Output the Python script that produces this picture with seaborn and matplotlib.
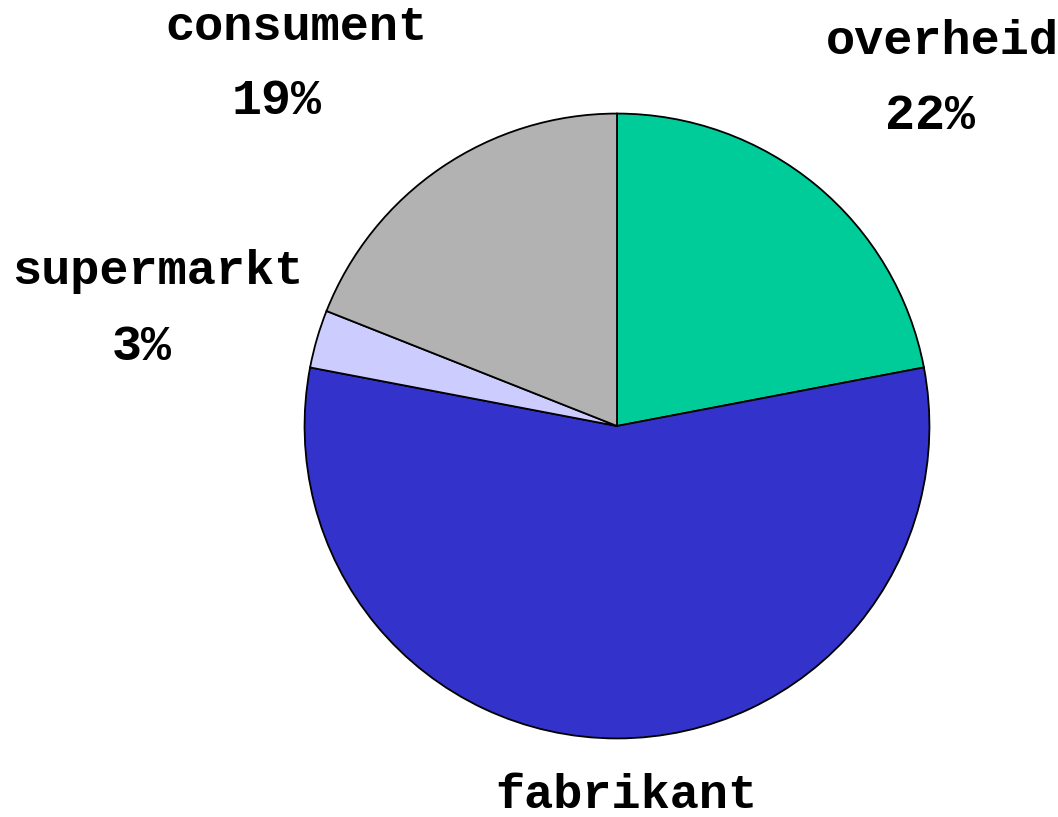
import matplotlib
matplotlib.use("Agg")
import matplotlib.pyplot as plt
import seaborn as sns

# ---- data ----
labels = ["overheid", "fabrikant", "supermarkt", "consument"]
shares = [22, 56, 3, 19]
colors = ["#00CC99", "#3333CC", "#CCCCFF", "#B2B2B2"]

# label anchor points in pixels (x, y from top) for name / percent
# (the fabrikant percentage falls below the bottom edge in the original)
name_pos = [(942, 42), (626, 795), (158, 272), (296, 28)]
pct_pos = [(930, 116), None, (142, 347), (277, 101)]

sns.set_theme(style="white")
plt.rcParams["font.family"] = ["Liberation Mono", "DejaVu Sans Mono"]

W, H = 1058, 817
fig = plt.figure(figsize=(W / 100, H / 100), dpi=100)
cx, cy, r = 617, 426, 314
ax = fig.add_axes([(cx - r) / W, (H - cy - r) / H, 2 * r / W, 2 * r / H])

ax.pie(shares, colors=colors, startangle=90, counterclock=False, radius=1,
       wedgeprops=dict(edgecolor="black", linewidth=1.3))
ax.set_xlim(-1.005, 1.005)
ax.set_ylim(-1.005, 1.005)
ax.set_aspect("auto")
ax.axis("off")

for lab, val, npos, ppos in zip(labels, shares, name_pos, pct_pos):
    fig.text(npos[0] / W, 1 - npos[1] / H, lab, ha="center", va="center",
             fontsize=35, fontweight="bold", color="black")
    if ppos is not None:
        fig.text(ppos[0] / W, 1 - ppos[1] / H, f"{val}%", ha="center", va="center",
                 fontsize=36, fontweight="bold", color="black")

fig.savefig("out.png", dpi=100, facecolor="white")
